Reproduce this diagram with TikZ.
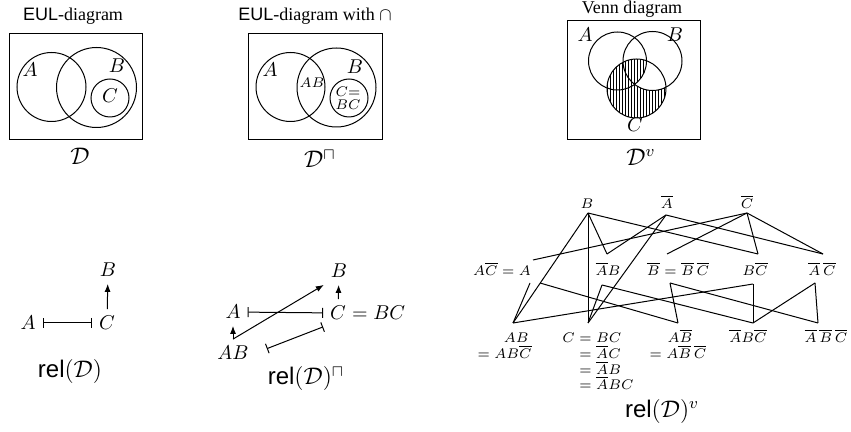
\documentclass[tikz,border=0pt]{standalone}
\usepackage{fontspec}
\newfontfamily\tms{Liberation Serif}
\newfontfamily\hlv{Liberation Sans}
\usetikzlibrary{arrows.meta}
\begin{document}
\begin{tikzpicture}[x=0.5pt,y=-0.5pt,
  frame/.style={draw, line width=0.5pt},
  setc/.style={draw, line width=0.5pt},
  hatch/.style={line width=0.35pt},
  ttl/.style={font=\fontsize{9}{11}\selectfont, anchor=base, inner sep=0pt},
  big/.style={font=\large},
  small/.style={font=\scriptsize, inner sep=0pt},
  lat/.style={font=\scriptsize, inner sep=0pt, anchor=base},
  edge/.style={line width=0.5pt},
  arr/.style={-{Latex[length=4pt,width=3pt]}, line width=0.5pt},
  disj/.style={{Bar[width=5pt]}-{Bar[width=5pt]}, line width=0.5pt}]
\useasboundingbox (0,0) rectangle (851,432);

% ---------- EUL diagram ----------
\node[ttl] (t1) at (73,20.7) {{\hlv EUL}{\tms -diagram}};
\draw[frame] (9,34) rectangle (142,140);
\draw[setc] (51.5,87) circle[radius=34.5];
\draw[setc] (96.5,87.5) circle[radius=40];
\draw[setc] (110,98) circle[radius=19];
\node (e1A) at (30,70) {$A$};
\node (e1B) at (117,66) {$B$};
\node (e1C) at (110,96) {$C$};
\node[big] (d1) at (80,156) {$\mathcal{D}$};

% ---------- EUL diagram with cap ----------
\node[ttl] (t2) at (315,20.7) {{\hlv EUL}{\tms -diagram with }$\cap$};
\draw[frame] (248,34) rectangle (382,140);
\draw[setc] (290.5,87) circle[radius=34.5];
\draw[setc] (336.5,87.5) circle[radius=39.5];
\draw[setc] (349,98) circle[radius=19];
\node (e2A) at (270,70) {$A$};
\node (e2B) at (355,67) {$B$};
\node[small] (e2AB) at (312,83) {$AB$};
\node[small, align=center] (e2C) at (348,98) {$C{=}$\\[-1.5pt]$BC$};
\node[big] (d2) at (320,159) {$\mathcal{D}^{\sqcap}$};

% ---------- Venn diagram ----------
\node[ttl] (t3) at (632,13.3) {\tms Venn diagram};
\draw[frame] (567,21) rectangle (700,140);
\begin{scope}
  \clip (636.5,88.5) circle[radius=29.5];
  \clip (617.5,61) circle[radius=29];
  \foreach \x in {607,610,...,667} \draw[hatch] (\x,50) -- (\x,125);
\end{scope}
\begin{scope}[even odd rule]
  \clip (636.5,88.5) circle[radius=29.5];
  \clip (560,0) rectangle (710,150) (652.5,61) circle[radius=29.5];
  \foreach \x in {607,610,...,667} \draw[hatch] (\x,50) -- (\x,125);
\end{scope}
\draw[setc] (617.5,61) circle[radius=29];
\draw[setc] (652.5,61) circle[radius=29.5];
\draw[setc] (636.5,88.5) circle[radius=29.5];
\node (e3A) at (585,35) {$A$};
\node (e3B) at (675,35) {$B$};
\node (e3C) at (635,125) {$C$};
\node[big] (d3) at (641,157) {$\mathcal{D}^{v}$};

% ---------- rel(D) ----------
\node (r1B) at (108,270) {$B$};
\node (r1A) at (28,323) {$A$};
\node (r1C) at (107,323) {$C$};
\draw[arr] (r1C) -- (r1B);
\draw[disj] (r1A) -- (r1C);
\node[big] (r1l) at (70,372) {{\hlv rel}$(\mathcal{D})$};

% ---------- rel(D)^cap ----------
\node (r2B) at (339,271) {$B$};
\node (r2A) at (233,312) {$A$};
\node (r2C) at (338,313) {$C$};
\node[anchor=base west, inner xsep=0pt] (r2eq) at ([xshift=-3.33pt]r2C.base east) {${}=BC$};
\node (r2AB) at (233,353) {$AB$};
\draw[arr] (r2C) -- (r2B);
\draw[disj] (r2A) -- (r2C);
\draw[arr] (r2AB) -- (r2A);
\draw[arr] (r2AB.north) -- (r2B.south west);
\draw[disj, shorten <=6pt] (r2AB.east) -- (r2C.south west);
\node[big] (r2l) at (306,379) {{\hlv rel}$(\mathcal{D})^{\sqcap}$};

% ---------- rel(D)^v lattice ----------
\node[lat] (lB) at (587,209) {$B$};
\node[lat] (lNA) at (667,209) {$\overline{A}$};
\node[lat] (lNC) at (747,209) {$\overline{C}$};
\node[lat] (lA) at (502,276) {$A\overline{C}=A$};
\node[lat] (lNAB) at (608,276) {$\overline{A}B$};
\node[lat] (lNB) at (678,276) {$\overline{B}=\overline{B}\,\overline{C}$};
\node[lat] (lBNC) at (755,276) {$B\overline{C}$};
\node[lat] (lNANC) at (822,276) {$\overline{A}\,\overline{C}$};
\node[lat, anchor=base east] (lAB) at (529,343) {$AB$};
\node[lat, anchor=base east] (lAB2) at (532,359) {$=AB\overline{C}$};
\node[lat, anchor=base west] (lC) at (562,343) {$C=BC$};
\node[lat, anchor=base west] (lC2) at (562,359) {$\phantom{C}=\overline{A}C$};
\node[lat, anchor=base west] (lC3) at (562,374.5) {$\phantom{C}=\overline{A}B$};
\node[lat, anchor=base west] (lC4) at (562,390) {$\phantom{C}=\overline{A}BC$};
\node[lat] (lANB) at (680,343) {$A\overline{B}$};
\node[lat] (lANB2) at (678,359) {$=A\overline{B}\,\overline{C}$};
\node[lat] (lNABNC) at (748,343) {$\overline{A}B\overline{C}$};
\node[lat] (lNANBNC) at (826,343) {$\overline{A}\,\overline{B}\,\overline{C}$};
\node[big] (r3l) at (662,411) {{\hlv rel}$(\mathcal{D})^{v}$};

\coordinate (tB) at (588,213);
\coordinate (tNA) at (666,215);
\coordinate (tNC) at (747,213);
\coordinate (mAt) at (533,260);
\coordinate (mAb1) at (530,283);
\coordinate (mAb2) at (540,283);
\coordinate (mNABt) at (607,254);
\coordinate (mNABb) at (602,285);
\coordinate (mNBt) at (667,254);
\coordinate (mNBb) at (670,283);
\coordinate (mBNCt) at (758,254);
\coordinate (mBNCb) at (753,284);
\coordinate (mNANCt) at (823,254);
\coordinate (mNANCb) at (815,283);
\coordinate (bAB) at (513,323);
\coordinate (bC) at (588,323);
\coordinate (bANB) at (678,323);
\coordinate (bNABNC) at (753,323);
\coordinate (bNANBNC) at (818,323);

\draw[edge] (tB) -- (bAB);
\draw[edge] (tB) -- (bC);
\draw[edge] (tB) -- (mNABt);
\draw[edge] (tB) -- (mBNCt);
\draw[edge] (tNA) -- (mNABt);
\draw[edge] (tNA) -- (bC);
\draw[edge] (tNA) -- (mNANCt);
\draw[edge] (tNC) -- (mAt);
\draw[edge] (tNC) -- (mNBt);
\draw[edge] (tNC) -- (mBNCt);
\draw[edge] (tNC) -- (mNANCt);
\draw[edge] (mAb1) -- (bAB);
\draw[edge] (mAb2) -- (bANB);
\draw[edge] (mNABb) -- (bC);
\draw[edge] (mNABb) -- (bNABNC);
\draw[edge] (mNBb) -- (bANB);
\draw[edge] (mNBb) -- (bNANBNC);
\draw[edge] (mBNCb) -- (bAB);
\draw[edge] (mBNCb) -- (bNABNC);
\draw[edge] (mNANCb) -- (bNABNC);
\draw[edge] (mNANCb) -- (bNANBNC);
\end{tikzpicture}
\end{document}
